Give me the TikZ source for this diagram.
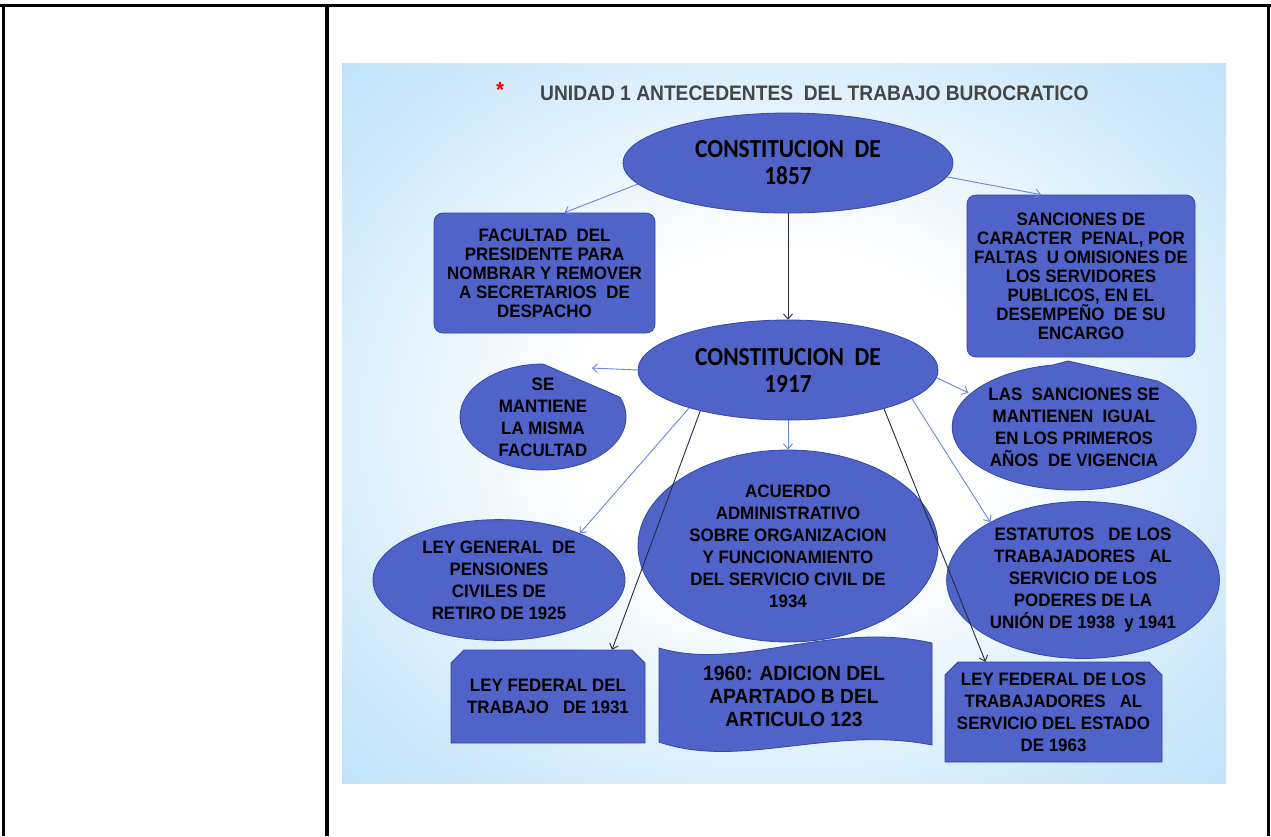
\documentclass[tikz,border=0pt]{standalone}
\usepackage{fontspec}
\usepackage{tikz}
\usetikzlibrary{positioning}
\usetikzlibrary{shapes.geometric}
\usetikzlibrary{arrows.meta}

\newfontfamily\boxfont[FakeStretch=0.94]{Liberation Sans}
\newfontfamily\titlefont[FakeStretch=0.915]{Liberation Sans}
\newfontfamily\constfont[FakeStretch=0.9]{Carlito}

\definecolor{boxblue}{HTML}{4F63C8}
\definecolor{boxedge}{HTML}{3446A6}
\definecolor{lightarr}{HTML}{6C83E6}
\definecolor{darkarr}{HTML}{262A45}
\definecolor{bgblue}{HTML}{A2D4F6}
\definecolor{titlegray}{HTML}{454545}

\pgfdeclareradialshading{bgshade}{\pgfpoint{0bp}{0bp}}{color(0bp)=(white); color(12bp)=(white); color(32bp)=(bgblue!60!white); color(48bp)=(bgblue); color(71bp)=(bgblue)}

\begin{document}
\begin{tikzpicture}[x=1pt,y=-1pt,
    shapebox/.style={fill=boxblue, draw=boxedge, line width=0.8pt},
    boxtext/.style={font=\boxfont\bfseries\fontsize{18}{19}\selectfont, align=center, text=black},
    ovaltext/.style={font=\boxfont\bfseries\fontsize{18}{22}\selectfont, align=center, text=black},
    constext/.style={font=\constfont\bfseries\fontsize{26}{27}\selectfont, align=center, text=black},
    lightline/.style={-{Straight Barb[length=5pt,width=9pt]}, draw=lightarr, line width=0.9pt},
    darkline/.style={-{Straight Barb[length=5pt,width=9pt]}, draw=darkarr, line width=0.9pt}]
    \useasboundingbox (0,0) rectangle (1271,836);

    % slide background and table frame
    \shade[shading=bgshade] (342,63) rectangle (1226,783);
    \draw[line width=3.5pt] (0,5.5) -- (1271,5.5);
    \draw[line width=3.5pt] (3.5,4) -- (3.5,836);
    \draw[line width=3.5pt] (327,4) -- (327,836);
    \draw[line width=3.5pt] (1268.5,4) -- (1268.5,836);

    \node[text=red, font=\titlefont\bfseries\fontsize{22}{22}\selectfont] (ast) at (500,90) {*};
    \node[anchor=base west, inner sep=0pt, text=titlegray, font=\titlefont\bfseries\fontsize{21}{21}\selectfont] (title) at (540,100) {UNIDAD 1 ANTECEDENTES\ \ DEL TRABAJO BUROCRATICO};

    \node[ellipse, shapebox, minimum width=330pt, minimum height=100pt, constext] (c57) at (788,163) {CONSTITUCION\ \ DE\\1857};
    \node[rectangle, rounded corners=9pt, shapebox, minimum width=221pt, minimum height=120pt, boxtext] (fac) at (544.5,273) {FACULTAD\ \ DEL\\PRESIDENTE PARA\\NOMBRAR Y REMOVER\\A SECRETARIOS\ \ DE\\DESPACHO};
    \node[rectangle, rounded corners=9pt, shapebox, minimum width=228pt, minimum height=162pt, boxtext] (sanc) at (1081,276) {SANCIONES DE\\CARACTER\ \ PENAL, POR\\FALTAS\ \ U OMISIONES DE\\LOS SERVIDORES\\PUBLICOS, EN EL\\DESEMPEÑO\ \ DE SU\\ENCARGO};
    \node[ellipse, shapebox, minimum width=300pt, minimum height=100pt, constext] (c17) at (788,370) {CONSTITUCION\ \ DE\\1917};

    \filldraw[shapebox] (543,364) arc[start angle=-90, end angle=-382, x radius=83, y radius=53] -- cycle;
    \node[ellipse, minimum width=166pt, minimum height=106pt, ovaltext] (semf) at (543,417) {SE\\MANTIENE\\LA MISMA\\FACULTAD};
    \filldraw[shapebox] (1068,361) -- (1053,365) arc[start angle=-100, end angle=-407, x radius=122, y radius=63] -- cycle;
    \node[ellipse, minimum width=244pt, minimum height=126pt, ovaltext] (lsan) at (1074,427) {LAS\ \ SANCIONES SE\\MANTIENEN\ \ IGUAL\\EN LOS PRIMEROS\\AÑOS\ \ DE VIGENCIA};

    \node[ellipse, shapebox, minimum width=300pt, minimum height=192pt, ovaltext] (acu) at (788,546) {ACUERDO\\ADMINISTRATIVO\\SOBRE ORGANIZACION\\Y FUNCIONAMIENTO\\DEL SERVICIO CIVIL DE\\1934};
    \node[ellipse, shapebox, minimum width=252pt, minimum height=114pt, ovaltext] (lgen) at (499,580) {LEY GENERAL\ \ DE\\PENSIONES\\CIVILES DE\\RETIRO DE 1925};
    \node[ellipse, shapebox, minimum width=264pt, minimum height=156pt, ovaltext] (est) at (1083,580) {ESTATUTOS\ \ \ DE LOS\\TRABAJADORES\ \ \ AL\\SERVICIO DE LOS\\PODERES DE LA\\UNIÓN DE 1938\ \ y 1941};

    \filldraw[shapebox] (451,663) -- (464,650) -- (632,650) -- (645,663) -- (645,743) -- (451,743) -- cycle;
    \node[rectangle, minimum width=194pt, minimum height=93pt, ovaltext] (lf31) at (548,696.5) {LEY FEDERAL DEL\\TRABAJO\ \ \ DE 1931};
    \filldraw[shapebox] (659,648) .. controls (740,672) and (830,620) .. (932,643) -- (932,745)
        .. controls (830,725) and (740,770) .. (659,742) -- cycle;
    \node[font=\boxfont\bfseries\fontsize{20.5}{23}\selectfont, align=center] (adic) at (794,696) {1960: ADICION DEL\\APARTADO B DEL\\ARTICULO 123};
    \filldraw[shapebox] (945,675) -- (958,662) -- (1149,662) -- (1162,675) -- (1162,762) -- (945,762) -- cycle;
    \node[rectangle, minimum width=217pt, minimum height=100pt, ovaltext] (lf63) at (1053.5,712) {LEY FEDERAL DE LOS\\TRABAJADORES\ \ \ AL\\SERVICIO DEL ESTADO\\DE 1963};

    \draw[darkline] (c57.south) -- (c17.north);
    \draw[lightline] (c57.188) -- ([xshift=20pt]fac.north);
    \draw[lightline] (c57.-5) -- ([xshift=-40pt]sanc.north);
    \draw[lightline] (c17.west) -- (semf.45);
    \draw[lightline] (c17.-3) -- (lsan.162);
    \draw[lightline] (c17.south) -- (acu.north);
    \draw[lightline] (c17.201) -- (lgen.30);
    \draw[darkline] (c17.205) -- ([xshift=64pt]lf31.north);
    \draw[lightline] (c17.-13) -- (est.148);
    \draw[darkline] (c17.-22) -- ([xshift=-68pt]lf63.north);
\end{tikzpicture}
\end{document}
